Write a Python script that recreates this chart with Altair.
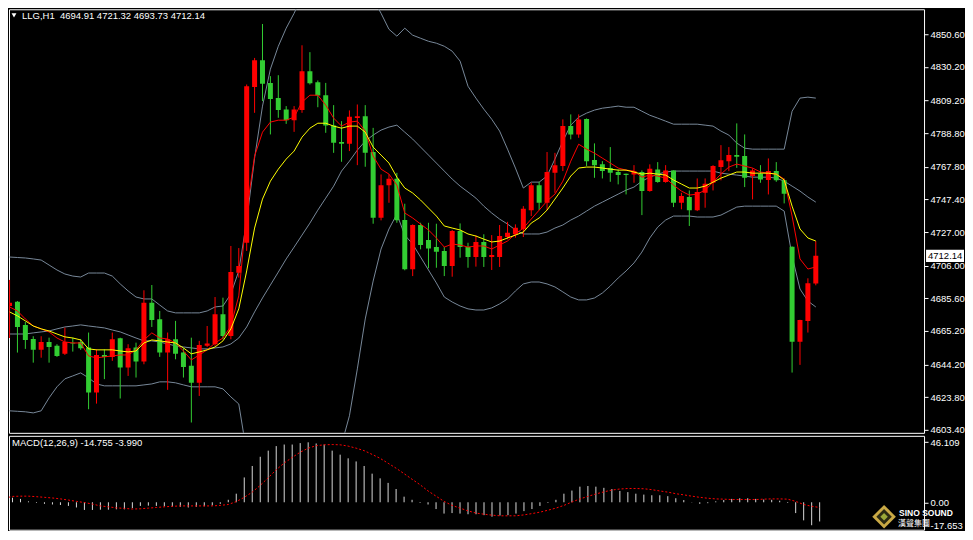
import altair as alt
import pandas as pd

FONT = "Liberation Sans"

idx = list(range(103))

opens = [4680.8, 4683.5, 4669.0, 4660.2, 4653.4, 4658.3, 4655.9, 4651.0, 4657.9, 4658.3,
         4654.8, 4626.7, 4650.2, 4649.0, 4660.7, 4642.3, 4654.8, 4646.1, 4682.9, 4672.5,
         4651.7, 4660.0, 4651.7, 4643.4, 4632.9, 4655.9, 4656.9, 4675.6, 4662.1, 4701.6,
         4720.3, 4817.7, 4834.4, 4820.2, 4810.7, 4803.6, 4796.9, 4803.2, 4827.5, 4820.6,
         4812.5, 4793.6, 4783.2, 4782.1, 4798.2, 4799.4, 4777.0, 4735.9, 4756.3, 4760.3,
         4734.5, 4703.7, 4731.4, 4722.0, 4717.6, 4715.2, 4705.8, 4727.6, 4717.6, 4711.4,
         4720.8, 4711.4, 4711.4, 4723.9, 4725.6, 4728.7, 4740.7, 4756.3, 4745.3, 4764.0,
         4768.2, 4793.2, 4788.0, 4797.7, 4772.0, 4769.3, 4767.1, 4764.5, 4763.4, 4763.0,
         4764.5, 4752.6, 4766.1, 4758.2, 4765.5, 4745.3, 4748.9, 4740.7, 4751.5, 4757.8,
         4767.6, 4771.3, 4775.1, 4774.5, 4762.0, 4763.4, 4759.5, 4765.1, 4759.3, 4717.8,
         4658.5, 4671.5, 4694.91]

highs = [4697.1, 4683.9, 4670.8, 4661.9, 4661.9, 4661.0, 4656.9, 4667.3, 4661.0, 4660.2,
         4664.2, 4653.8, 4653.8, 4664.2, 4661.0, 4656.9, 4657.9, 4690.6, 4693.9, 4677.7,
         4664.2, 4671.5, 4654.4, 4661.0, 4659.0, 4668.3, 4686.4, 4686.0, 4718.3, 4717.0,
         4819.2, 4835.8, 4857.0, 4824.4, 4825.0, 4805.7, 4805.7, 4843.7, 4839.4, 4821.7,
         4820.2, 4806.3, 4796.3, 4803.0, 4806.7, 4806.3, 4792.1, 4763.0, 4763.0, 4764.0,
         4744.7, 4731.8, 4732.8, 4732.8, 4732.2, 4717.6, 4728.3, 4732.4, 4720.3, 4725.0,
         4725.6, 4725.1, 4731.4, 4733.4, 4731.8, 4743.2, 4757.8, 4758.4, 4777.0, 4776.5,
         4797.4, 4800.5, 4800.5, 4798.0, 4782.4, 4771.3, 4780.1, 4766.1, 4763.5, 4768.8,
         4765.5, 4769.3, 4770.7, 4768.8, 4765.6, 4751.5, 4753.0, 4760.5, 4760.5, 4768.8,
         4781.3, 4780.1, 4794.9, 4788.0, 4766.8, 4768.8, 4773.0, 4770.7, 4760.5, 4718.0,
         4672.2, 4698.1, 4721.32]

lows = [4660.8, 4651.7, 4654.0, 4645.4, 4648.5, 4645.4, 4649.0, 4650.2, 4652.3, 4653.4,
        4616.3, 4619.8, 4635.1, 4646.5, 4623.0, 4637.1, 4636.1, 4644.4, 4667.7, 4649.0,
        4628.4, 4647.5, 4636.1, 4608.0, 4624.6, 4655.2, 4655.9, 4660.0, 4660.0, 4698.5,
        4715.2, 4801.5, 4808.8, 4788.0, 4798.4, 4794.6, 4789.6, 4801.5, 4819.2, 4805.0,
        4789.0, 4776.5, 4770.9, 4777.6, 4768.8, 4767.8, 4732.2, 4734.3, 4745.3, 4732.8,
        4703.1, 4699.5, 4716.2, 4704.4, 4704.7, 4699.5, 4699.1, 4711.0, 4704.7, 4705.4,
        4705.2, 4703.3, 4705.2, 4722.5, 4723.5, 4723.9, 4737.0, 4740.7, 4740.6, 4751.5,
        4765.1, 4784.9, 4785.9, 4768.2, 4760.9, 4760.5, 4758.4, 4756.8, 4750.5, 4757.8,
        4737.6, 4752.2, 4757.8, 4757.8, 4742.6, 4741.2, 4730.8, 4740.1, 4742.2, 4753.0,
        4759.3, 4765.1, 4767.1, 4755.1, 4747.4, 4757.8, 4750.5, 4758.4, 4744.9, 4639.2,
        4644.0, 4664.2, 4693.73]

closes = [4682.9, 4667.7, 4659.6, 4653.4, 4658.3, 4655.2, 4649.6, 4658.3, 4657.3, 4654.4,
          4626.7, 4650.2, 4649.0, 4660.0, 4642.3, 4654.4, 4646.1, 4682.9, 4672.1, 4651.7,
          4660.0, 4651.0, 4642.7, 4632.9, 4656.5, 4657.3, 4675.6, 4662.1, 4702.0, 4705.8,
          4818.1, 4834.4, 4819.6, 4810.2, 4803.3, 4796.9, 4803.6, 4827.5, 4820.0, 4812.3,
          4793.6, 4782.8, 4782.1, 4799.0, 4799.4, 4776.5, 4735.9, 4756.3, 4760.3, 4734.3,
          4703.7, 4731.4, 4718.9, 4716.8, 4714.7, 4705.8, 4727.6, 4717.6, 4711.4, 4720.8,
          4711.4, 4712.7, 4724.5, 4726.6, 4729.7, 4741.6, 4756.3, 4745.3, 4764.5, 4768.8,
          4793.2, 4788.0, 4797.4, 4771.3, 4768.8, 4765.1, 4764.0, 4762.6, 4762.6, 4765.1,
          4752.6, 4766.5, 4758.2, 4765.5, 4745.3, 4749.5, 4740.7, 4752.0, 4757.2, 4768.2,
          4771.8, 4775.1, 4774.0, 4760.9, 4765.5, 4759.9, 4765.1, 4759.3, 4750.9, 4658.5,
          4672.1, 4695.0, 4712.14]

ma_fast = [4680.2, 4677.7, 4672.7, 4668.3, 4666.5, 4664.6, 4660.8, 4658.3, 4657.7, 4657.7,
           4649.6, 4648.4, 4649.0, 4649.6, 4650.2, 4650.2, 4653.4, 4659.6, 4664.0, 4660.8,
           4660.2, 4657.7, 4652.7, 4647.1, 4650.2, 4653.4, 4657.7, 4660.8, 4668.3, 4687.1,
           4740.1, 4774.5, 4789.4, 4795.7, 4796.9, 4796.9, 4798.8, 4808.2, 4812.5, 4812.5,
           4806.3, 4798.2, 4793.2, 4795.7, 4796.3, 4790.1, 4774.5, 4766.3, 4763.2, 4756.3,
           4738.9, 4735.8, 4732.0, 4728.3, 4723.3, 4717.6, 4719.5, 4718.9, 4717.6, 4718.3,
           4718.3, 4716.4, 4718.9, 4721.4, 4725.8, 4729.5, 4735.1, 4740.7, 4746.4, 4750.7,
           4758.8, 4771.3, 4781.9, 4778.8, 4776.3, 4773.2, 4770.1, 4767.0, 4765.7, 4765.1,
           4761.3, 4762.6, 4762.0, 4760.7, 4756.3, 4752.6, 4750.1, 4750.7, 4753.2, 4758.2,
           4763.2, 4767.6, 4769.5, 4768.2, 4767.0, 4764.5, 4763.8, 4763.2, 4760.1, 4737.0,
           4710.2, 4703.9, 4705.2]

ma_slow = [4677.1, 4674.6, 4671.5, 4668.3, 4666.5, 4665.2, 4663.3, 4661.5, 4660.8, 4659.6,
           4654.0, 4653.4, 4653.4, 4653.4, 4652.7, 4652.1, 4652.7, 4657.7, 4659.6, 4659.0,
           4658.3, 4657.7, 4654.6, 4650.9, 4652.1, 4653.4, 4655.2, 4659.0, 4666.5, 4679.0,
           4702.7, 4729.5, 4747.6, 4758.8, 4766.3, 4772.6, 4777.6, 4786.3, 4791.9, 4795.0,
           4795.0, 4793.2, 4791.9, 4793.2, 4793.2, 4789.4, 4780.1, 4775.1, 4770.1, 4761.3,
           4754.5, 4751.4, 4747.0, 4742.0, 4737.0, 4730.8, 4729.5, 4728.3, 4725.8, 4724.5,
           4722.6, 4720.8, 4721.4, 4723.3, 4725.1, 4727.0, 4732.6, 4735.8, 4740.7, 4747.6,
           4754.5, 4762.0, 4767.0, 4767.6, 4767.6, 4767.0, 4766.3, 4765.7, 4765.7, 4764.5,
           4763.2, 4763.8, 4763.2, 4762.6, 4759.5, 4757.0, 4754.5, 4754.5, 4755.7, 4758.2,
           4760.7, 4762.6, 4764.5, 4764.5, 4763.8, 4763.8, 4763.8, 4763.2, 4759.5, 4743.2,
           4728.9, 4723.3, 4721.4]

bb_upper = [4711.4, 4711.1, 4710.8, 4710.2, 4709.5, 4706.4, 4703.3, 4700.8, 4699.5, 4698.9,
            4701.4, 4701.4, 4701.4, 4699.5, 4694.6, 4690.2, 4686.4, 4685.2, 4685.2, 4681.4,
            4677.7, 4676.5, 4676.5, 4676.5, 4676.5, 4677.7, 4680.2, 4680.8, 4688.3, 4702.7,
            4733.9, 4773.2, 4805.7, 4828.8, 4843.1, 4854.4, 4863.7, 4874.3, 4886.8, 4899.3,
            4911.8, 4921.1, 4927.4, 4924.3, 4911.8, 4893.1, 4872.5, 4863.7, 4853.7, 4849.4,
            4854.4, 4850.0, 4848.1, 4846.2, 4845.0, 4843.1, 4840.0, 4833.8, 4818.1, 4810.7,
            4803.8, 4797.5, 4790.1, 4778.8, 4767.0, 4754.5, 4758.2, 4758.2, 4762.0, 4772.6,
            4783.8, 4793.8, 4798.8, 4801.3, 4803.2, 4804.4, 4805.0, 4805.7, 4805.0, 4805.0,
            4802.5, 4800.0, 4798.2, 4796.3, 4794.4, 4794.4, 4794.4, 4794.4, 4793.8, 4793.2,
            4790.1, 4787.6, 4782.6, 4779.4, 4778.8, 4778.8, 4778.8, 4778.8, 4778.8, 4802.5,
            4810.7, 4811.3, 4810.7]

bb_mid = [4663.3, 4663.3, 4663.3, 4664.0, 4664.6, 4665.2, 4666.5, 4667.7, 4668.3, 4669.0,
          4668.3, 4667.7, 4667.1, 4665.8, 4664.6, 4662.7, 4660.8, 4659.0, 4659.0, 4658.3,
          4657.1, 4655.9, 4655.2, 4654.6, 4654.0, 4654.0, 4654.6, 4655.2, 4657.1, 4660.8,
          4667.7, 4677.1, 4685.8, 4693.9, 4702.0, 4710.2, 4717.6, 4725.1, 4732.6, 4740.7,
          4748.2, 4755.7, 4765.1, 4771.3, 4778.2, 4783.8, 4787.6, 4790.7, 4792.6, 4793.8,
          4789.4, 4785.1, 4780.1, 4775.1, 4770.1, 4765.1, 4760.1, 4755.7, 4752.0, 4748.2,
          4743.2, 4738.9, 4735.1, 4732.0, 4728.3, 4725.8, 4725.8, 4725.8, 4727.0, 4729.5,
          4731.4, 4734.5, 4737.0, 4740.1, 4743.2, 4745.7, 4748.2, 4750.7, 4753.2, 4755.1,
          4758.8, 4761.3, 4763.2, 4764.5, 4765.1, 4765.1, 4765.1, 4765.1, 4765.1, 4765.1,
          4763.8, 4763.2, 4762.6, 4762.0, 4761.3, 4761.3, 4761.3, 4760.7, 4758.8, 4755.7,
          4752.6, 4748.9, 4745.7]

bb_lower = [4615.3, 4615.0, 4614.7, 4614.0, 4615.3, 4623.4, 4630.3, 4635.3, 4637.1, 4639.0,
            4635.9, 4632.1, 4630.9, 4630.9, 4630.9, 4630.9, 4630.9, 4631.5, 4632.1, 4633.4,
            4633.4, 4632.8, 4631.5, 4630.3, 4630.3, 4630.3, 4630.3, 4629.0, 4624.0, 4619.6,
            4589.1, 4577.8, 4566.6, 4560.4, 4559.1, 4561.0, 4565.3, 4570.3, 4576.6, 4582.2,
            4585.3, 4589.1, 4594.1, 4612.2, 4641.5, 4672.7, 4696.4, 4716.4, 4728.9, 4738.2,
            4725.1, 4719.5, 4711.4, 4703.3, 4695.2, 4686.4, 4683.3, 4680.8, 4679.0, 4678.3,
            4678.3, 4679.6, 4682.1, 4685.2, 4690.2, 4694.6, 4695.8, 4695.8, 4694.6, 4692.7,
            4689.6, 4686.4, 4684.6, 4684.6, 4685.8, 4688.9, 4693.3, 4698.3, 4702.7, 4707.7,
            4714.5, 4723.3, 4730.1, 4734.5, 4737.0, 4737.0, 4737.0, 4736.4, 4736.4, 4736.4,
            4737.6, 4740.1, 4742.6, 4743.2, 4743.2, 4743.2, 4743.2, 4743.2, 4740.1, 4712.0,
            4691.4, 4683.9, 4680.2]

macd_hist = [4.3, 3.5, 2.6, 0.7, -0.5, -1.2, -1.7, -2.1, -2.8, -4.0,
             -5.9, -5.9, -5.7, -5.7, -5.4, -5.4, -4.5, -2.8, -2.6, -2.8,
             -3.1, -3.3, -3.5, -4.0, -3.5, -3.1, -2.4, -1.2, 1.9, 6.6,
             19.1, 27.9, 35.0, 39.7, 43.2, 44.4, 44.4, 45.5, 46.109, 45.2,
             44.4, 39.7, 36.6, 33.8, 31.4, 27.9, 22.0, 18.4, 14.9, 10.2,
             4.3, 1.9, -0.5, -1.7, -5.2, -8.7, -8.3, -8.7, -9.2, -9.2,
             -9.9, -11.1, -10.2, -9.9, -8.7, -6.8, -5.2, -2.8, -0.5, 1.9,
             6.6, 9.0, 12.0, 12.5, 12.0, 11.1, 10.2, 8.7, 7.8, 6.6,
             5.9, 5.4, 5.4, 4.7, 3.1, 1.7, 0.2, -1.2, -0.7, 0.7,
             1.7, 2.6, 3.1, 3.1, 2.6, 2.1, 1.9, 1.2, -0.5, -8.3,
             -13.9, -17.653, -14.755]

macd_signal = [3.1, 4.5, 4.7, 4.7, 4.3, 3.8, 3.3, 2.6, 1.7, 0.7,
               -0.2, -1.4, -2.8, -3.5, -4.3, -4.7, -5.2, -5.0, -4.5, -4.0,
               -3.5, -3.1, -2.8, -2.8, -2.8, -2.8, -2.8, -2.4, -1.7, 0.5,
               3.8, 7.8, 13.0, 18.9, 25.0, 30.2, 34.5, 38.5, 41.6, 43.5,
               44.2, 44.4, 44.2, 43.2, 41.6, 39.7, 36.8, 33.8, 30.0, 26.2,
               22.0, 17.7, 13.5, 8.7, 4.7, 0.7, -2.4, -4.5, -6.6, -8.3,
               -9.2, -9.9, -10.4, -10.4, -10.4, -9.7, -8.7, -7.6, -6.1, -4.5,
               -2.4, 0.2, 2.6, 4.5, 6.4, 8.0, 9.4, 10.2, 10.6, 10.6,
               10.4, 9.7, 8.7, 7.8, 6.6, 5.7, 4.7, 3.8, 3.1, 2.6,
               2.4, 2.1, 2.1, 2.1, 2.1, 2.4, 2.6, 2.6, 2.4, 0.7,
               -1.7, -3.1, -3.99]

price_ticks = [4603.4, 4623.8, 4644.2, 4665.2, 4685.6, 4706.0, 4727.0,
               4747.4, 4767.8, 4788.8, 4809.2, 4830.2, 4850.6]
macd_ticks = [46.109, 0.0, -17.653]

title_text = "LLG,H1\u00a0 4694.91 4721.32 4693.73 4712.14"
macd_text = "MACD(12,26,9) -14.755 -3.990"
last_price = 4712.14
last_label = "4712.14"
logo_en = "SINO SOUND"
logo_zh = "漢聲集團"

# ---------------- data tables ----------------
df = pd.DataFrame({"k": idx, "open": opens, "high": highs, "low": lows, "close": closes,
                   "ma_fast": ma_fast, "ma_slow": ma_slow})
df["dir"] = ["up" if c >= o else "down" for o, c in zip(opens, closes)]

bb_df = pd.concat([
    pd.DataFrame({"k": idx, "value": bb_upper, "band": "upper"}),
    pd.DataFrame({"k": idx, "value": bb_mid, "band": "mid"}),
    pd.DataFrame({"k": idx, "value": bb_lower, "band": "lower"}),
], ignore_index=True)

macd_df = pd.DataFrame({"k": idx, "hist": macd_hist, "signal": macd_signal,
                        "zero": [0.0] * len(idx)})

W = 916
H_MAIN = 424
H_MACD = 94
FS = 9.5

xs = alt.Scale(domain=[0.5625, 0.5625 + W / 8.0], nice=False, zero=False)
ys = alt.Scale(domain=[4601.55, 4866.2], nice=False, zero=False)
ms = alt.Scale(domain=[-21.11, 51.10], nice=False, zero=False)
x_enc = alt.X("k:Q", scale=xs, axis=None)

color_dir = alt.Color("dir:N", scale=alt.Scale(domain=["up", "down"],
                                                range=["#ff0000", "#32cd32"]), legend=None)

axis_common = dict(orient="right", labelColor="#ffffff", tickColor="#ffffff", tickSize=4,
                   tickWidth=1, domain=False, grid=False, labelFont=FONT, labelFontSize=FS,
                   labelPadding=2, title=None, labelOverlap=False, labelFlush=False)

price_axis = alt.Axis(values=price_ticks, format=".2f", **axis_common)
macd_axis = alt.Axis(values=macd_ticks,
                     labelExpr="datum.value == 0 ? '0.00' : (datum.value < 0 ? '-' + format(-datum.value, '.3f') : format(datum.value, '.3f'))",
                     **axis_common)


def py(field):
    return alt.Y(field, scale=ys, axis=price_axis)


def my(field):
    return alt.Y(field, scale=ms, axis=macd_axis)


bb = alt.Chart(bb_df).mark_line(color="#778899", strokeWidth=1, clip=True).encode(
    x=x_enc, y=py("value:Q"), detail="band:N")

wicks = alt.Chart(df).mark_rule(strokeWidth=1, clip=True).encode(
    x=x_enc, y=py("low:Q"), y2="high:Q", color=color_dir)

bodies = alt.Chart(df).mark_bar(size=5, clip=True).encode(
    x=x_enc, y=py("open:Q"), y2="close:Q", color=color_dir)

red_line = alt.Chart(df).mark_line(color="#ff0000", strokeWidth=1, clip=True).encode(
    x=x_enc, y=py("ma_fast:Q"))

yellow_line = alt.Chart(df).mark_line(color="#ffff00", strokeWidth=1, clip=True).encode(
    x=x_enc, y=py("ma_slow:Q"))

one = pd.DataFrame({"t": [title_text]})
tri = alt.Chart(one).mark_point(shape="triangle-down", filled=True, color="#ffffff",
                                size=24, opacity=1).encode(x=alt.value(5), y=alt.value(6))
title = alt.Chart(one).mark_text(align="left", baseline="middle", color="#ffffff",
                                 font=FONT, fontSize=FS).encode(
    x=alt.value(13), y=alt.value(7), text="t:N")

lp = pd.DataFrame({"p": [last_price], "t": [last_label]})
marker_box = alt.Chart(lp).mark_point(shape="M-1,-0.32H1V0.32H-1Z", filled=True, color="#ffffff",
                                      size=1444, opacity=1).encode(
    x=alt.value(W + 21), y=py("p:Q"))
marker_txt = alt.Chart(lp).mark_text(align="left", baseline="middle", color="#000000",
                                     font=FONT, fontSize=FS).encode(
    x=alt.value(W + 4), y=py("p:Q"), text="t:N")

main = alt.layer(bb, wicks, bodies, red_line, yellow_line, tri, title,
                 marker_box, marker_txt).properties(width=W, height=H_MAIN)

hist = alt.Chart(macd_df).mark_rule(color="#d8d8d8", strokeWidth=1, clip=True).encode(
    x=x_enc, y=my("zero:Q"), y2="hist:Q")
sig = alt.Chart(macd_df).mark_line(color="#ff0000", strokeWidth=1, strokeDash=[2, 2],
                                   clip=True).encode(
    x=x_enc, y=my("signal:Q"))

mt = pd.DataFrame({"t": [macd_text]})
macd_title = alt.Chart(mt).mark_text(align="left", baseline="middle", color="#ffffff",
                                     font=FONT, fontSize=FS).encode(
    x=alt.value(3), y=alt.value(7), text="t:N")

logo_df = pd.DataFrame({"en": [logo_en], "zh": [logo_zh]})
logo_outer = alt.Chart(logo_df).mark_point(shape="diamond", filled=True, color="#c9a945",
                                           size=560, opacity=1).encode(
    x=alt.value(876), y=alt.value(81))
logo_inner = alt.Chart(logo_df).mark_point(shape="diamond", filled=True, color="#2b2a12",
                                           size=240, opacity=1).encode(
    x=alt.value(876), y=alt.value(81))
logo_core = alt.Chart(logo_df).mark_point(shape="diamond", filled=True, color="#9aa838",
                                          size=56, opacity=1).encode(
    x=alt.value(876), y=alt.value(81))
logo_en_t = alt.Chart(logo_df).mark_text(align="left", baseline="middle", color="#ffffff",
                                         font=FONT, fontSize=8.5, fontWeight="bold").encode(
    x=alt.value(891), y=alt.value(77), text="en:N")
logo_zh_t = alt.Chart(logo_df).mark_text(align="left", baseline="middle", color="#ffffff",
                                         font="Noto Sans CJK TC", fontSize=8).encode(
    x=alt.value(890), y=alt.value(88), text="zh:N")

macd = alt.layer(hist, sig, macd_title, logo_outer, logo_inner, logo_core,
                 logo_en_t, logo_zh_t).properties(width=W, height=H_MACD)

chart = alt.vconcat(main, macd, spacing=3, bounds="flush").properties(
    background="#000000",
    padding=0,
).configure_view(stroke="#ffffff", strokeWidth=1)

chart.save("out.html", embed_options={"renderer": "svg", "actions": False})
